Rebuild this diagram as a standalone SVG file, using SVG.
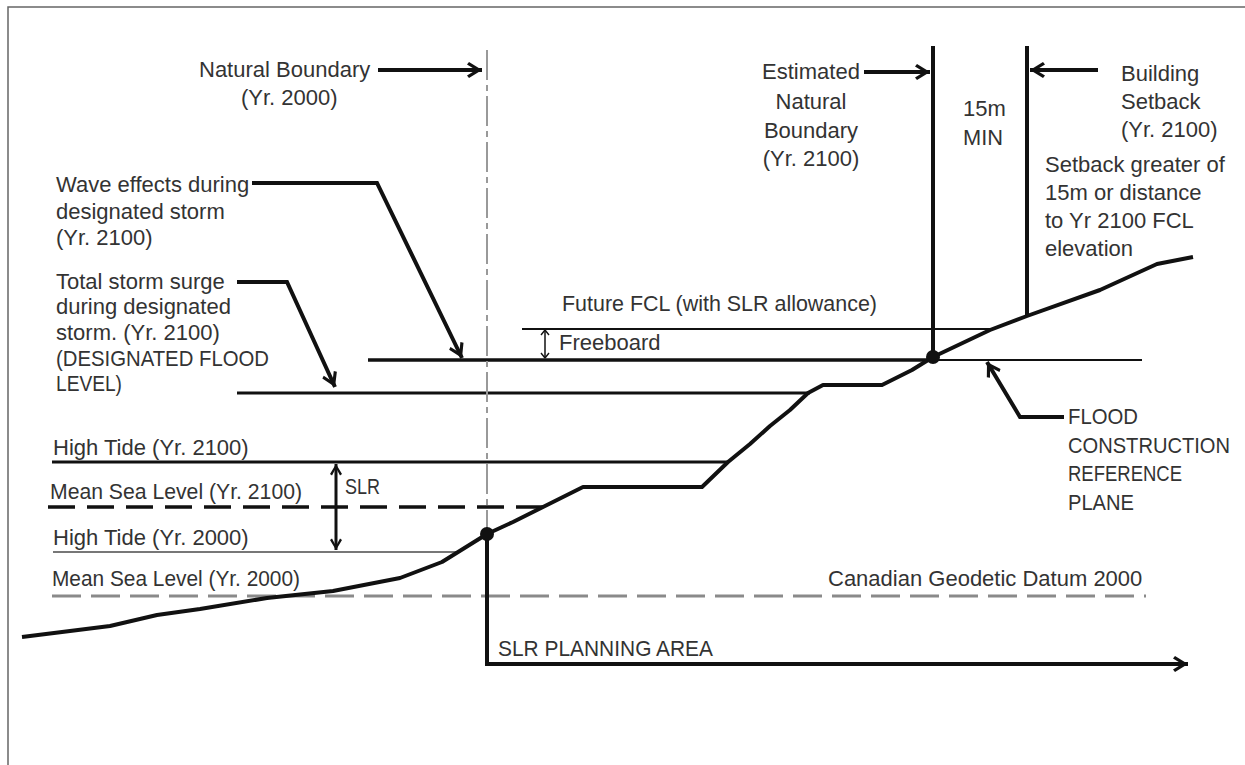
<svg xmlns="http://www.w3.org/2000/svg" width="1245" height="765" viewBox="0 0 1245 765">
<defs>
<style>
text{font-family:"Liberation Sans",Arial,sans-serif;font-size:22px;fill:#333}
.ln{stroke:#111;fill:none}
.thick{stroke-width:4}
.mid{stroke-width:3}
.thin{stroke-width:2}
</style>
<marker id="arr" viewBox="-16 -10 18 20" refX="0" refY="0" markerWidth="18" markerHeight="20" markerUnits="userSpaceOnUse" orient="auto-start-reverse">
<path d="M0,0 L-13,-8 L-15,-5.5 L-6,0 L-15,5.5 L-13,8 Z" fill="#111"/>
</marker>
<marker id="arrS" viewBox="-12 -8 14 16" refX="0" refY="0" markerWidth="14" markerHeight="16" markerUnits="userSpaceOnUse" orient="auto-start-reverse">
<path d="M0,0 L-10,-6 L-11.5,-4 L-4,0 L-11.5,4 L-10,6 Z" fill="#111"/>
</marker>
<marker id="tick" viewBox="-6 -5 7 10" refX="0" refY="0" markerWidth="7" markerHeight="10" markerUnits="userSpaceOnUse" orient="auto-start-reverse">
<path d="M0,0 L-5,-4 M0,0 L-5,4" stroke="#111" stroke-width="1.4" fill="none"/>
</marker>
</defs>
<rect width="1245" height="765" fill="#fff"/>
<g id="frame"><path d="M8,765 V7 H1245" stroke="#666" stroke-width="1.5" fill="none"/></g>

<g id="levels">
<line id="msl2000" x1="52" y1="596" x2="1146" y2="596" stroke="#8a8a8a" stroke-width="3" stroke-dasharray="29 10"/>
<line id="ht2000" x1="53" y1="552" x2="457" y2="552" stroke="#777" stroke-width="2"/>
<line id="msl2100" x1="48" y1="507" x2="543" y2="507" stroke="#111" stroke-width="3.5" stroke-dasharray="27 12"/>
<line id="ht2100" x1="52" y1="462" x2="728" y2="462" stroke="#111" stroke-width="3"/>
<line id="surge" x1="237" y1="393" x2="810" y2="393" stroke="#111" stroke-width="3"/>
<line id="flood" x1="368" y1="360" x2="933" y2="360" stroke="#111" stroke-width="3.5"/>
<line id="fcrp" x1="933" y1="360" x2="1142" y2="360" stroke="#111" stroke-width="2"/>
<line id="fcl" x1="522" y1="329" x2="990" y2="329" stroke="#111" stroke-width="2"/>
</g>

<g id="boundaries">
<line id="nb2000" x1="487" y1="50" x2="487" y2="534" stroke="#999" stroke-width="2" stroke-dasharray="30 5 6 5"/>
<line id="nb2100" x1="933" y1="46" x2="933" y2="357" stroke="#111" stroke-width="4"/>
<line id="setback" x1="1027" y1="46" x2="1027" y2="316" stroke="#111" stroke-width="4"/>
</g>

<g id="terrain">
<path class="ln" stroke-width="4" stroke-linejoin="round" d="M22,637 L110,626 L157,615 L200,609 L267,598 L333,591 L400,578 L442,562 L487,534 L513,522 L543,507 L583,487 L702,487 L728,462 L750,444 L770,426 L790,410 L808,393 L823,385 L882,385 L912,370 L933,357 L990,330 L1027,316 L1100,290 L1157,264 L1193,257"/>
<circle cx="487" cy="534" r="7" fill="#111"/>
<circle cx="933" cy="357" r="7" fill="#111"/>
</g>

<g id="connectors">
<line class="ln thick" x1="378" y1="70" x2="482" y2="70" marker-end="url(#arr)"/>
<line class="ln thick" x1="864" y1="72" x2="930" y2="72" marker-end="url(#arr)"/>
<line class="ln thick" x1="1098" y1="70" x2="1030" y2="70" marker-end="url(#arr)"/>
<path class="ln thick" d="M252,183 H377 L462,358" marker-end="url(#arr)"/>
<path class="ln thick" d="M237,282 H287 L335,387" marker-end="url(#arr)"/>
<path class="ln thick" d="M1064,417 H1020 L987,362" marker-end="url(#arr)"/>
<line class="ln" stroke-width="3" x1="336" y1="464" x2="336" y2="550" marker-start="url(#arrS)" marker-end="url(#arrS)"/>
<line class="ln" stroke-width="1.5" x1="545" y1="330" x2="545" y2="358" marker-start="url(#tick)" marker-end="url(#tick)"/>
<path class="ln" stroke-width="4" d="M487,534 V664 H1188" marker-end="url(#arr)"/>
</g>

<g id="labels">
<text x="199" y="77">Natural Boundary</text>
<text x="241" y="105">(Yr. 2000)</text>
<g text-anchor="middle">
<text x="811" y="79">Estimated</text>
<text x="811" y="109">Natural</text>
<text x="811" y="138">Boundary</text>
<text x="811" y="166">(Yr. 2100)</text>
</g>
<text x="963" y="116">15m</text>
<text x="963" y="145" textLength="40" lengthAdjust="spacingAndGlyphs">MIN</text>
<text x="1121" y="81">Building</text>
<text x="1121" y="109">Setback</text>
<text x="1121" y="137">(Yr. 2100)</text>
<text x="1045" y="172">Setback greater of</text>
<text x="1045" y="200">15m or distance</text>
<text x="1045" y="228">to Yr 2100 FCL</text>
<text x="1045" y="256">elevation</text>
<text x="56" y="192">Wave effects during</text>
<text x="56" y="219">designated storm</text>
<text x="56" y="245">(Yr. 2100)</text>
<text x="56" y="289">Total storm surge</text>
<text x="56" y="314">during designated</text>
<text x="56" y="340">storm. (Yr. 2100)</text>
<text x="56" y="366" textLength="213" lengthAdjust="spacingAndGlyphs">(DESIGNATED FLOOD</text>
<text x="56" y="391" textLength="66" lengthAdjust="spacingAndGlyphs">LEVEL)</text>
<text x="562" y="311" textLength="315" lengthAdjust="spacingAndGlyphs">Future FCL (with SLR allowance)</text>
<text x="559" y="350">Freeboard</text>
<text x="53" y="455">High Tide (Yr. 2100)</text>
<text x="345" y="494" textLength="35" lengthAdjust="spacingAndGlyphs">SLR</text>
<text x="50" y="499" textLength="252" lengthAdjust="spacingAndGlyphs">Mean Sea Level (Yr. 2100)</text>
<text x="53" y="545">High Tide (Yr. 2000)</text>
<text x="52" y="586" textLength="248" lengthAdjust="spacingAndGlyphs">Mean Sea Level (Yr. 2000)</text>
<text x="828" y="586">Canadian Geodetic Datum 2000</text>
<text x="1068" y="424" textLength="70" lengthAdjust="spacingAndGlyphs">FLOOD</text>
<text x="1068" y="453" textLength="162" lengthAdjust="spacingAndGlyphs">CONSTRUCTION</text>
<text x="1068" y="481" textLength="114" lengthAdjust="spacingAndGlyphs">REFERENCE</text>
<text x="1068" y="510" textLength="66" lengthAdjust="spacingAndGlyphs">PLANE</text>
<text x="498" y="656" textLength="215" lengthAdjust="spacingAndGlyphs">SLR PLANNING AREA</text>
</g>
</svg>
